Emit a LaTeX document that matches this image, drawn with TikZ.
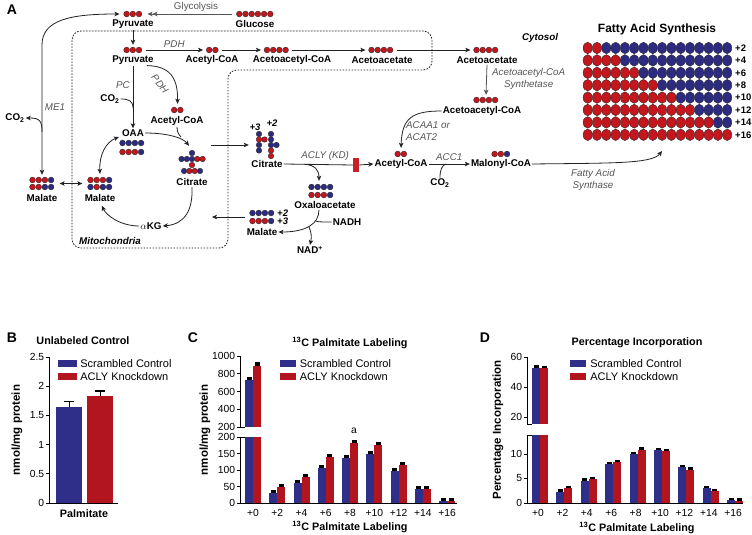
\documentclass[tikz,border=0pt]{standalone}
\usepackage{fontspec}
\setmainfont{Liberation Sans}
\setsansfont{Liberation Sans}
\usepackage{tikz}
\usetikzlibrary{arrows.meta, positioning, calc}
\definecolor{molRed}{HTML}{C3161D}
\definecolor{molBlue}{HTML}{2C2B80}
\definecolor{barBlue}{HTML}{2F2E88}
\definecolor{barRed}{HTML}{B3151E}
\definecolor{inhRed}{HTML}{C8202A}
\definecolor{enzGray}{HTML}{555555}
\definecolor{lineDark}{HTML}{222222}

% a row of carbon dots: name, centre, count, colours
\newcommand{\mol}[4]{%
  \node[molbox, minimum width=#3*6.2pt] (#1) at #2 {};
  \foreach \dc [count=\di from 0] in {#4}
    \draw[dot,\dc] ($(#1.west)+({3.1+6.2*\di},0)$) circle (2.9pt);
}

\begin{document}
\begin{tikzpicture}[x=1pt, y=-1pt,
  lbl/.style={font=\fontsize{9.8}{11}\selectfont\bfseries, inner sep=1pt},
  lblit/.style={font=\fontsize{9.5}{11}\selectfont\bfseries\itshape, inner sep=1pt},
  enz/.style={font=\fontsize{9.8}{12.5}\selectfont\itshape, text=enzGray, inner sep=1pt},
  enzup/.style={font=\fontsize{9.8}{11}\selectfont, text=enzGray, inner sep=1pt},
  cyto/.style={font=\fontsize{9.8}{11}\selectfont\bfseries\itshape, inner sep=1pt},
  panel/.style={font=\fontsize{14}{16}\selectfont\bfseries, inner sep=0pt},
  ttl/.style={font=\fontsize{10.8}{12}\selectfont\bfseries, inner sep=1pt},
  ytl/.style={font=\fontsize{11.5}{13}\selectfont\bfseries, rotate=90, inner sep=1pt},
  tk/.style={font=\fontsize{10.3}{12}\selectfont, inner sep=1.5pt},
  legtxt/.style={font=\fontsize{11}{12}\selectfont, inner sep=1pt},
  legbox/.style={minimum width=16pt, minimum height=7.5pt, inner sep=0},
  gridlbl/.style={font=\fontsize{9.5}{11}\selectfont\bfseries, inner sep=1pt, anchor=west},
  dot/.style={draw=black!85, line width=0.35pt},
  cR/.style={fill=molRed}, cB/.style={fill=molBlue},
  molbox/.style={inner sep=0, minimum height=6pt},
  arr/.style={-{Stealth[length=5pt,width=4.5pt,inset=1.2pt]}, line width=0.8pt, draw=lineDark},
  darr/.style={{Stealth[length=5pt,width=4.5pt,inset=1.2pt]}-{Stealth[length=5pt,width=4.5pt,inset=1.2pt]}, line width=0.8pt, draw=lineDark},
  garr/.style={-{Stealth[length=5pt,width=4.5pt,inset=1.2pt]}, line width=0.8pt, draw=enzGray},
  dblarr/.style={-{Stealth[length=5pt,width=4.5pt,inset=1.2pt] Stealth[length=5pt,width=4.5pt,inset=1.2pt]}, line width=0.8pt, draw=enzGray},
  ln/.style={line width=0.8pt, draw=lineDark},
  mito/.style={draw=lineDark, line width=0.8pt, dash pattern=on 1.6pt off 1.4pt, rounded corners=9pt},
  kd/.style={fill=inhRed, minimum width=6pt, minimum height=14pt, inner sep=0},
  ax/.style={line width=0.8pt, draw=black},
  barB/.style={fill=barBlue}, barR/.style={fill=barRed},
  errc/.style={fill=black},
]
\useasboundingbox (0,0) rectangle (752,535);

%% ---------------- panel A ----------------
\node[panel] (pA) at (12,10) {A};
\draw[mito] (72,120) -- (72,31) -- (432,31) -- (432,70) -- (228,70) -- (228,248) -- (72,248) -- cycle;
\node[cyto] (cyt) at (540,38) {Cytosol};
\node[cyto] (mitoL) at (110,241) {Mitochondria};

% glycolysis
\mol{gluD}{(255,14)}{6}{cR,cR,cR,cR,cR,cR}
\node[lbl] (glu) at (255,24) {Glucose};
\mol{pyrTD}{(133,14)}{3}{cR,cR,cR}
\node[lbl] (pyrT) at (133,24) {Pyruvate};
\node[enzup] (glyc) at (196,7) {Glycolysis};
\draw[dblarr] ($(gluD.west)+(-4,0)$) -- ($(pyrTD.east)+(5,0)$);

% mitochondrial pyruvate and ketone route
\mol{pyrMD}{(133,50)}{3}{cR,cR,cR}
\node[lbl] (pyrM) at (133,60) {Pyruvate};
\draw[arr, shorten >=2pt] (pyrT.south) -- (pyrMD.north);
\mol{acMD}{(212.5,50)}{2}{cR,cR}
\node[lbl] (acM) at (212,60) {Acetyl-CoA};
\draw[arr] ($(pyrMD.east)+(3,0)$) -- node[enz, above=1pt] (pdh1) {PDH} ($(acMD.west)+(-3,0)$);
\mol{aacMD}{(276.5,50)}{4}{cR,cR,cR,cR}
\node[lbl] (aacM) at (292,60) {Acetoacetyl-CoA};
\draw[arr] ($(acMD.east)+(3,0)$) -- ($(aacMD.west)+(-3,0)$);
\mol{aaMD}{(381,50)}{4}{cR,cR,cR,cR}
\node[lbl] (aaM) at (382,60) {Acetoacetate};
\draw[arr] ($(aacMD.east)+(3,0)$) -- ($(aaMD.west)+(-3,0)$);
\mol{aaCD}{(486,50)}{4}{cR,cR,cR,cR}
\node[lbl] (aaC) at (487,60) {Acetoacetate};
\draw[arr] ($(aaMD.east)+(3,0)$) -- ($(aaCD.west)+(-3,0)$);

% cytosolic ketone route
\mol{aacCD}{(486,100)}{4}{cR,cR,cR,cR}
\node[lbl] (aacC) at (482,111) {Acetoacetyl-CoA};
\draw[garr] (aaC.south) -- ($(aacCD.north)+(0,-2)$);
\node[enz, anchor=west, align=center] (acs) at (491,79) {Acetoacetyl-CoA\\Synthetase};
\mol{acCD}{(401,154)}{2}{cR,cR}
\node[lbl] (acC) at (401,164) {Acetyl-CoA};
\draw[arr] (aacC.west) .. controls (412,111) and (402,118) .. ($(acCD.north)+(0,-3)$);
\node[enz, anchor=west, align=left] (acaa) at (405,131) {ACAA1 or\\ACAT2};

% malonyl-CoA and fatty acid synthase
\mol{malCoAD}{(501,154)}{3}{cR,cR,cB}
\node[lbl] (malCoA) at (501,164) {Malonyl-CoA};
\draw[arr] (acC.east) -- node[enz, above=2pt] (acc1) {ACC1} (malCoA.west);
\node[lbl] (co2b) at (440,183) {CO\textsubscript{2}};
\coordinate (acc1j) at ($(acC.east)!0.42!(malCoA.west)$);
\draw[ln] (co2b.north) .. controls (440,170) and (442,165) .. (acc1j);
\coordinate (fasEnd) at (662,151);
\draw[arr] (malCoA.east) .. controls (610,163) and (652,164) .. (fasEnd);
\node[enz, align=center] (fas) at (593,180) {Fatty Acid\\Synthase};

% fatty acid grid
\node[font=\fontsize{12}{14}\selectfont\bfseries] (fasT) at (657,29) {Fatty Acid Synthesis};
\foreach \j in {1,...,8}{
  \pgfmathsetmacro\gy{48+12.4*(\j-1)}
  \foreach \i in {1,...,16}{
    \pgfmathsetmacro\gx{587.7+9.3*(\i-1)}
    \ifnum\i>\numexpr2*\j\relax \def\gc{cB}\else\def\gc{cR}\fi
    \draw[dot,\gc] (\gx,\gy) ellipse (4.6pt and 5.8pt);
  }
  \pgfmathtruncatemacro\gl{2*\j}
  \node[gridlbl] (gl\gl) at (734,\gy) {+\gl};
}

% malic enzyme loop
\node[lbl] (co2a) at (15,118) {CO\textsubscript{2}};
\node[enz] (me1) at (55,107) {ME1};
\mol{malLa}{(42,180)}{4}{cR,cR,cR,cB}
\mol{malLb}{(42,187)}{4}{cR,cR,cB,cB}
\node[lbl] (malL) at (42,198) {Malate};
\draw[darr] ($(malLa.north)+(0,-2)$) -- (42,45) .. controls (42,20) and (70,14) .. ($(pyrTD.west)+(-4,0)$);
\coordinate (me1j) at (42,132);
\draw[arr] (me1j) .. controls (42,121) and (40,118) .. (co2a.east);
\mol{malMa}{(100,180)}{4}{cR,cR,cR,cB}
\mol{malMb}{(100,187)}{4}{cB,cR,cB,cB}
\node[lbl] (malM) at (100,198) {Malate};
\draw[darr] ($(malLa.east)!.5!(malLb.east)+(5,0)$) -- ($(malMa.west)!.5!(malMb.west)+(-5,0)$);

% pyruvate carboxylase / PDH / citrate
\node[lbl] (oaa) at (133,133) {OAA};
\mol{oaaA}{(132,143)}{4}{cB,cB,cB,cB}
\mol{oaaB}{(132,152)}{4}{cR,cR,cR,cB}
\draw[arr] (pyrM.south) -- (oaa.north);
\node[enz] (pc) at (123,85) {PC};
\node[lbl] (co2c) at (110,99) {CO\textsubscript{2}};
\coordinate (pcj) at (133,108);
\draw[ln] (co2c.east) .. controls (129,99) and (133,101) .. (pcj);
\mol{acM2D}{(177.5,110)}{2}{cR,cR}
\node[lbl] (acM2) at (177,121) {Acetyl-CoA};
\draw[arr] ($(pyrM.south east)+(-8,0)$) .. controls (170,66) and (178,78) .. ($(acM2D.north)+(0,-3)$);
\node[enz, rotate=-52] (pdh2) at (160,84) {PDH};
\node[molbox, minimum width=26pt, minimum height=24pt] (citMg) at (192,162) {};
\foreach \px/\py/\dc in {192/153/cB, 181.5/159/cB, 186.8/159/cB, 192/159/cB, 197.3/159/cR, 202.6/159/cR,
    192/165/cR, 184.1/171/cB, 189.4/171/cR, 194.7/171/cR, 200/171/cB}
  \draw[dot,\dc] (\px,\py) circle (2.8pt);
\node[lbl] (citM) at (192,182) {Citrate};
\draw[arr] (oaa.east) .. controls (168,133) and (183,138) .. ($(citMg.north)+(-3,-4)$);
\coordinate (citj) at (181,137);
\draw[ln] (acM2.south) .. controls (177,131) and (178,134) .. (citj);
\node[lbl] (akg) at (151,226) {$\alpha$KG};
\draw[arr] (citM.south) .. controls (193,210) and (185,224) .. (akg.east);
\draw[arr] (akg.west) .. controls (120,226) and (106,215) .. ($(malM.south)+(2,3)$);
\draw[darr] ($(malMa.north)+(0,-3)$) .. controls (99,155) and (106,142) .. ($(oaa.west)+(-2,4)$);

% citrate export and ACLY
\coordinate (citOut) at (211,145);
\node[molbox, minimum width=24pt, minimum height=28pt] (citCg) at (267,145) {};
\draw[arr] (citOut) -- ($(citCg.west)+(-6,0)$);
\foreach \px/\py/\dc in {259/134/cB, 259/139.5/cR, 259/145/cB, 259/150.5/cB, 264.5/139.5/cR,
    271/134/cB, 271/139.5/cB, 271/145/cB, 271/150.5/cR, 271/156/cR, 276.5/145/cB}
  \draw[dot,\dc] (\px,\py) circle (2.8pt);
\node[lblit] (p3c) at (255,127) {+3};
\node[lblit] (p2c) at (272,123) {+2};
\node[lbl] (citC) at (267,164) {Citrate};
\node[kd] (kd) at (356,165) {};
\draw[ln] (citC.east) -- node[enz, above=3pt, pos=0.6] (acly) {ACLY (KD)} (kd.west);
\draw[arr] (kd.east) -- (acC.west);
\coordinate (aclyj) at ($(citC.east)!0.3!(kd.west)$);
\mol{oaaCa}{(321,187)}{4}{cB,cB,cB,cB}
\mol{oaaCb}{(321,195)}{4}{cR,cR,cR,cB}
\node[lbl] (oaaC) at (325,205) {Oxaloacetate};
\draw[arr] (aclyj) .. controls (315,165) and (319,170) .. ($(oaaCa.north)+(-2,-3)$);

% malate dehydrogenase
\node[lbl] (nadh) at (347,222) {NADH};
\node[lbl] (nad) at (310,250) {NAD\textsuperscript{+}};
\mol{malCa}{(262,213)}{4}{cB,cB,cB,cB}
\mol{malCb}{(262,221)}{4}{cR,cR,cR,cB}
\node[lblit, anchor=west] (p2m) at (276,213) {+2};
\node[lblit, anchor=west] (p3m) at (276,221) {+3};
\node[lbl] (malC) at (262,232) {Malate};
\draw[arr] ($(oaaC.south)+(-6,0)$) .. controls (319,224) and (306,232) .. (malC.east);
\coordinate (nadhj) at (315.5,221);
\draw[ln] (nadh.west) .. controls (322,222) and (318,222) .. (nadhj);
\coordinate (nadj) at (309,227);
\draw[arr] (nadj) .. controls (311,232) and (312,236) .. (nad.north);
\coordinate (malIn) at (212,217);
\draw[arr] ($(malCa.west)!.5!(malCb.west)+(-4,0)$) -- (malIn);

%% ---------------- panel B ----------------
\node[panel] (pB) at (12,338) {B};
\node[ttl] (tB) at (83,341) {Unlabeled Control};
\draw[ax] (49,357) -- (49,503) -- (118,503);
\foreach \v [count=\n] in {0,0.5,1,1.5,2,2.5}
  \draw[ax] (49,{503-58.4*\v}) -- ++(-3,0) node[tk, left] (bt\n) {\v};
\fill[barB] (56,503) rectangle (82,406.6);
\fill[barR] (87,503) rectangle (113,395.5);
\draw[ax] (69,406.6) -- (69,401.4);
\draw[ax, line width=1.4pt] (64,401.4) -- (74,401.4);
\draw[ax] (100,395.5) -- (100,390.9);
\draw[ax, line width=1.4pt] (95,390.9) -- (105,390.9);
\node[ttl] (palm) at (84,514) {Palmitate};
\node[ytl] (yB) at (17,430) {nmol/mg protein};
\node[legbox, fill=barBlue, minimum width=19pt] (bLb) at (67.5,363.5) {};
\node[legtxt, right=2pt of bLb] (bLbt) {Scrambled Control};
\node[legbox, fill=barRed, minimum width=19pt] (bLr) at (67.5,376.5) {};
\node[legtxt, right=2pt of bLr] (bLrt) {ACLY Knockdown};

%% ---------------- panel C ----------------
\node[panel] (pC) at (193,338) {C};
\node[ttl] (tC) at (350,343) {\textsuperscript{13}C Palmitate Labeling};
\draw[ax] (240,356) -- (240,427);
\draw[ax] (240,437) -- (240,503) -- (457,503);
\draw[ax] (240,427) -- (245,427);
\draw[ax] (240,437) -- (245,437);
\foreach \v [count=\n] in {200,400,600,800,1000}
  \draw[ax] (240,{427-0.08875*(\v-200)}) -- ++(-3,0) node[tk, left] (ctu\n) {\v};
\foreach \v [count=\n] in {0,50,100,150,200}
  \draw[ax] (240,{503-0.33*\v}) -- ++(-3,0) node[tk, left] (ctl\n) {\v};
\fill[barB] (245,503) rectangle (253,437);
\fill[barB] (245,427) rectangle (253,380.4);
\fill[barR] (253,503) rectangle (261,437);
\fill[barR] (253,427) rectangle (261,365.8);
\fill[errc] (246.5,380.4) rectangle (251.5,377);
\fill[errc] (254.5,365.8) rectangle (259.5,362);
\foreach \k/\vb/\vr in {1/30/50,2/62/80,3/107/140,4/135/182,5/147/176,6/98/115,7/42/42,8/7/6}{
  \pgfmathsetmacro\xc{253+24.25*\k}
  \fill[barB] ({\xc-8},503) rectangle (\xc,{503-0.33*\vb});
  \fill[barR] (\xc,503) rectangle ({\xc+8},{503-0.33*\vr});
  \fill[errc] ({\xc-6.5},{503-0.33*\vb}) rectangle ({\xc-1.5},{500-0.33*\vb});
  \fill[errc] ({\xc+1.5},{503-0.33*\vr}) rectangle ({\xc+6.5},{500-0.33*\vr});
}
\foreach \k/\l in {0/+0,1/+2,2/+4,3/+6,4/+8,5/+10,6/+12,7/+14,8/+16}
  \node[tk] (cx\k) at ({253+24.25*\k},513) {\l};
\node[tk] (sigA) at (354,431) {a};
\node[ttl] (xC) at (350,527) {\textsuperscript{13}C Palmitate Labeling};
\node[ytl] (yC) at (205,430) {nmol/mg protein};
\node[legbox, fill=barBlue] (cLb) at (287.5,363.5) {};
\node[legtxt, right=3pt of cLb] (cLbt) {Scrambled Control};
\node[legbox, fill=barRed] (cLr) at (287.5,376.5) {};
\node[legtxt, right=3pt of cLr] (cLrt) {ACLY Knockdown};

%% ---------------- panel D ----------------
\node[panel] (pD) at (485,338) {D};
\node[ttl] (tD) at (637,343) {Percentage Incorporation};
\draw[ax] (527,357) -- (527,424);
\draw[ax] (527,435) -- (527,503) -- (743,503);
\draw[ax] (527,424) -- (532,424);
\draw[ax] (527,435) -- (532,435);
\foreach \v [count=\n] in {20,40,60}
  \draw[ax] (527,{357+1.5*(60-\v)}) -- ++(-3,0) node[tk, left] (dtu\n) {\v};
\foreach \v [count=\n] in {0,5,10}
  \draw[ax] (527,{503-4.9*\v}) -- ++(-3,0) node[tk, left] (dtl\n) {\v};
\fill[barB] (532,503) rectangle (540,435);
\fill[barB] (532,424) rectangle (540,367.5);
\fill[barR] (540,503) rectangle (548,435);
\fill[barR] (540,424) rectangle (548,368.3);
\fill[errc] (533.5,367.5) rectangle (538.5,365);
\fill[errc] (541.5,368.3) rectangle (546.5,365.8);
\foreach \k/\vb/\vr in {1/2.3/3.0,2/4.5/4.8,3/7.9/8.3,4/9.9/10.9,5/10.8/10.6,6/7.3/6.8,7/3.0/2.4,8/0.6/0.5}{
  \pgfmathsetmacro\xc{540+24.4*\k}
  \fill[barB] ({\xc-8},503) rectangle (\xc,{503-4.9*\vb});
  \fill[barR] (\xc,503) rectangle ({\xc+8},{503-4.9*\vr});
  \fill[errc] ({\xc-6.5},{503-4.9*\vb}) rectangle ({\xc-1.5},{500.5-4.9*\vb});
  \fill[errc] ({\xc+1.5},{503-4.9*\vr}) rectangle ({\xc+6.5},{500.5-4.9*\vr});
}
\foreach \k/\l in {0/+0,1/+2,2/+4,3/+6,4/+8,5/+10,6/+12,7/+14,8/+16}
  \node[tk] (dx\k) at ({538+24.4*\k},513) {\l};
\node[ttl] (xD) at (637,528) {\textsuperscript{13}C Palmitate Labeling};
\node[ytl] (yD) at (498,430) {Percentage Incorporation};
\node[legbox, fill=barBlue] (dLb) at (578,363.5) {};
\node[legtxt, right=3pt of dLb] (dLbt) {Scrambled Control};
\node[legbox, fill=barRed] (dLr) at (578,376.5) {};
\node[legtxt, right=3pt of dLr] (dLrt) {ACLY Knockdown};
\end{tikzpicture}
\end{document}
